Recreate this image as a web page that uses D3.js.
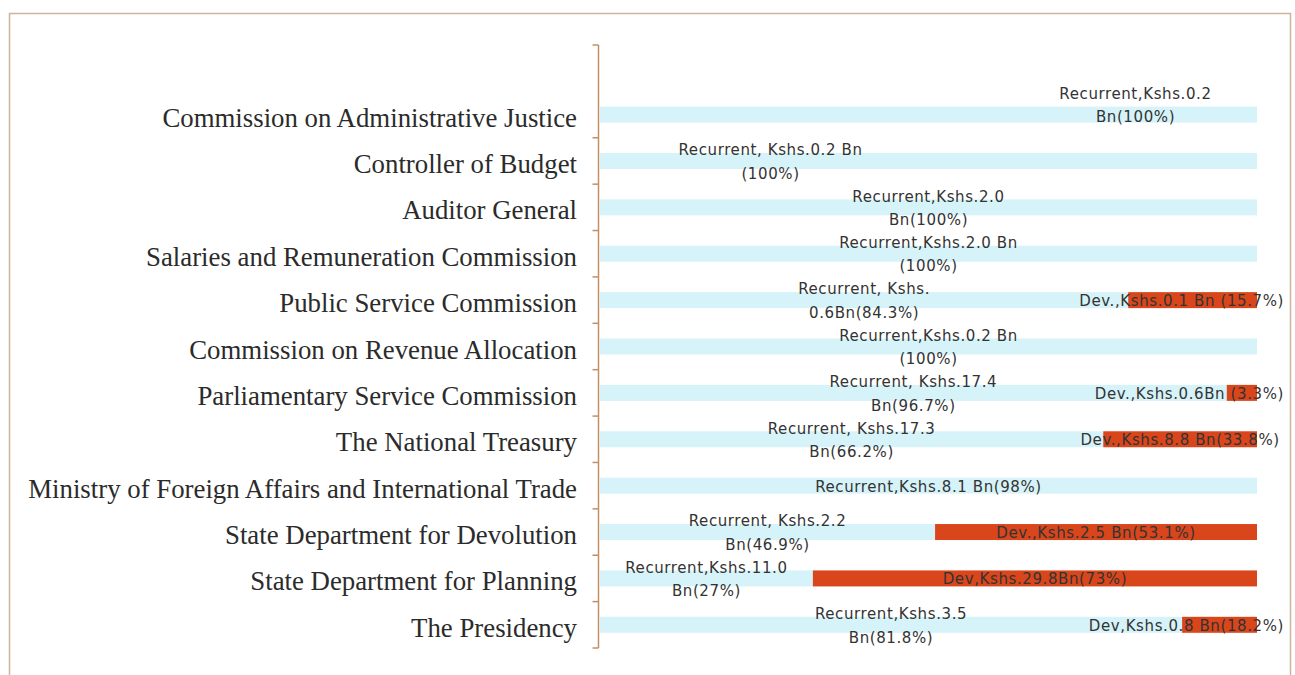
<!DOCTYPE html>
<html>
<head>
<meta charset="utf-8">
<script src="https://cdn.jsdelivr.net/npm/d3@7"></script>
<style>
  body { margin: 0; background: #fff; }
  svg { display: block; }
</style>
</head>
<body>
<div id="chart"></div>
<script>
// categories, top to bottom
var categories = [
    "Commission on Administrative Justice",
    "Controller of Budget",
    "Auditor General",
    "Salaries and Remuneration Commission",
    "Public Service Commission",
    "Commission on Revenue Allocation",
    "Parliamentary Service Commission",
    "The National Treasury",
    "Ministry of Foreign Affairs and International Trade",
    "State Department for Devolution",
    "State Department for Planning",
    "The Presidency"
];

// share of each bar (%), as drawn
var recurrentShare = [100, 100, 100, 100, 80.4, 100, 95.4, 76.6, 100, 51, 32.4, 88.6];
var devShare = [0, 0, 0, 0, 19.6, 0, 4.6, 23.4, 0, 49, 67.6, 11.4];

var recurrentLabels = [
    "Recurrent,Kshs.0.2\nBn(100%)",
    "Recurrent, Kshs.0.2 Bn\n(100%)",
    "Recurrent,Kshs.2.0\nBn(100%)",
    "Recurrent,Kshs.2.0 Bn\n(100%)",
    "Recurrent, Kshs.\n0.6Bn(84.3%)",
    "Recurrent,Kshs.0.2 Bn\n(100%)",
    "Recurrent, Kshs.17.4\nBn(96.7%)",
    "Recurrent, Kshs.17.3\nBn(66.2%)",
    "Recurrent,Kshs.8.1 Bn(98%)",
    "Recurrent, Kshs.2.2\nBn(46.9%)",
    "Recurrent,Kshs.11.0\nBn(27%)",
    "Recurrent,Kshs.3.5\nBn(81.8%)"
];
var devLabels = [
    "", "", "", "",
    "Dev.,Kshs.0.1 Bn (15.7%)",
    "",
    "Dev.,Kshs.0.6Bn (3.3%)",
    "Dev.,Kshs.8.8 Bn(33.8%)",
    "",
    "Dev.,Kshs.2.5 Bn(53.1%)",
    "Dev,Kshs.29.8Bn(73%)",
    "Dev,Kshs.0.8 Bn(18.2%)"
];

var W = 1295, H = 675;
var svg = d3.select("#chart").append("svg").attr("width", W).attr("height", H);

// frame
svg.append("rect")
    .attr("x", 9.5).attr("y", 13.5)
    .attr("width", 1281).attr("height", 700)
    .attr("fill", "#fff")
    .attr("stroke", "#cdb59c")
    .attr("stroke-width", 1.5);

var axisTop = 45, axisBottom = 648;
var slot = (axisBottom - axisTop) / (categories.length + 1);

var y = d3.scaleBand()
    .domain(categories)
    .range([axisTop + slot, axisBottom]);

var x = d3.scaleLinear().domain([0, 100]).range([600, 1257]);

var barH = 16;
var cRec = "#d6f3f9", cDev = "#d9461c";

// axis line with ticks at band boundaries
var axisX = 598.5;
svg.append("line")
    .attr("x1", axisX).attr("x2", axisX)
    .attr("y1", axisTop).attr("y2", axisBottom)
    .attr("stroke", "#c39064").attr("stroke-width", 1.5);
var tickYs = [axisTop].concat(categories.map(function (c) { return y(c) + y.bandwidth(); }));
svg.selectAll(".tick").data(tickYs).enter().append("line")
    .attr("x1", axisX - 6).attr("x2", axisX)
    .attr("y1", function (d) { return d; })
    .attr("y2", function (d) { return d; })
    .attr("stroke", "#c39064").attr("stroke-width", 1.5);

// category labels
svg.selectAll(".cat").data(categories).enter().append("text")
    .attr("x", 577)
    .attr("y", function (d) { return y(d) + y.bandwidth() / 2 + 12; })
    .attr("text-anchor", "end")
    .attr("font-family", "'Liberation Serif', 'Times New Roman', serif")
    .attr("font-size", 26.8)
    .attr("fill", "#2b2b2b")
    .text(function (d) { return d; });

// bars
var rows = categories.map(function (c, i) {
    return { cat: c, rec: recurrentShare[i], dev: devShare[i], recLab: recurrentLabels[i], devLab: devLabels[i] };
});

var barY = function (d) { return y(d.cat) + y.bandwidth() / 2 - barH / 2; };

svg.selectAll(".rec").data(rows).enter().append("rect")
    .attr("x", x(0))
    .attr("y", barY)
    .attr("width", function (d) { return x(d.rec) - x(0); })
    .attr("height", barH)
    .attr("fill", cRec);

svg.selectAll(".dev").data(rows.filter(function (d) { return d.dev > 0; })).enter().append("rect")
    .attr("x", function (d) { return x(d.rec); })
    .attr("y", barY)
    .attr("width", function (d) { return x(d.rec + d.dev) - x(d.rec); })
    .attr("height", barH)
    .attr("fill", cDev);

// data labels
var labelFont = "'DejaVu Sans', sans-serif", labelSize = 15, lineH = 23.5;
var rightLimit = 1284;
// labels that were dragged away from their default spot
var labelShift = {
    "Commission on Administrative Justice": [207, -10],
    "Controller of Budget": [-158, 0]
};

function drawLabel(txt, cx, cy) {
    var lines = txt.split("\n");
    var t = svg.append("text")
        .attr("text-anchor", "middle")
        .attr("font-family", labelFont)
        .attr("font-size", labelSize)
        .attr("letter-spacing", 0.6)
        .attr("fill", "#333");
    lines.forEach(function (l, k) {
        t.append("tspan")
            .attr("x", cx)
            .attr("y", cy + (k - (lines.length - 1) / 2) * lineH + 6)
            .text(l);
    });
    // keep inside the plot on the right
    var w = t.node().getBBox().width;
    if (cx + w / 2 > rightLimit) {
        t.selectAll("tspan").attr("x", rightLimit - w / 2);
    }
}

rows.forEach(function (d) {
    var cy = y(d.cat) + y.bandwidth() / 2;
    var s = labelShift[d.cat] || [0, 0];
    drawLabel(d.recLab, (x(0) + x(d.rec)) / 2 + s[0], cy + s[1]);
    if (d.dev > 0) {
        drawLabel(d.devLab, (x(d.rec) + x(d.rec + d.dev)) / 2, cy);
    }
});
</script>
</body>
</html>
